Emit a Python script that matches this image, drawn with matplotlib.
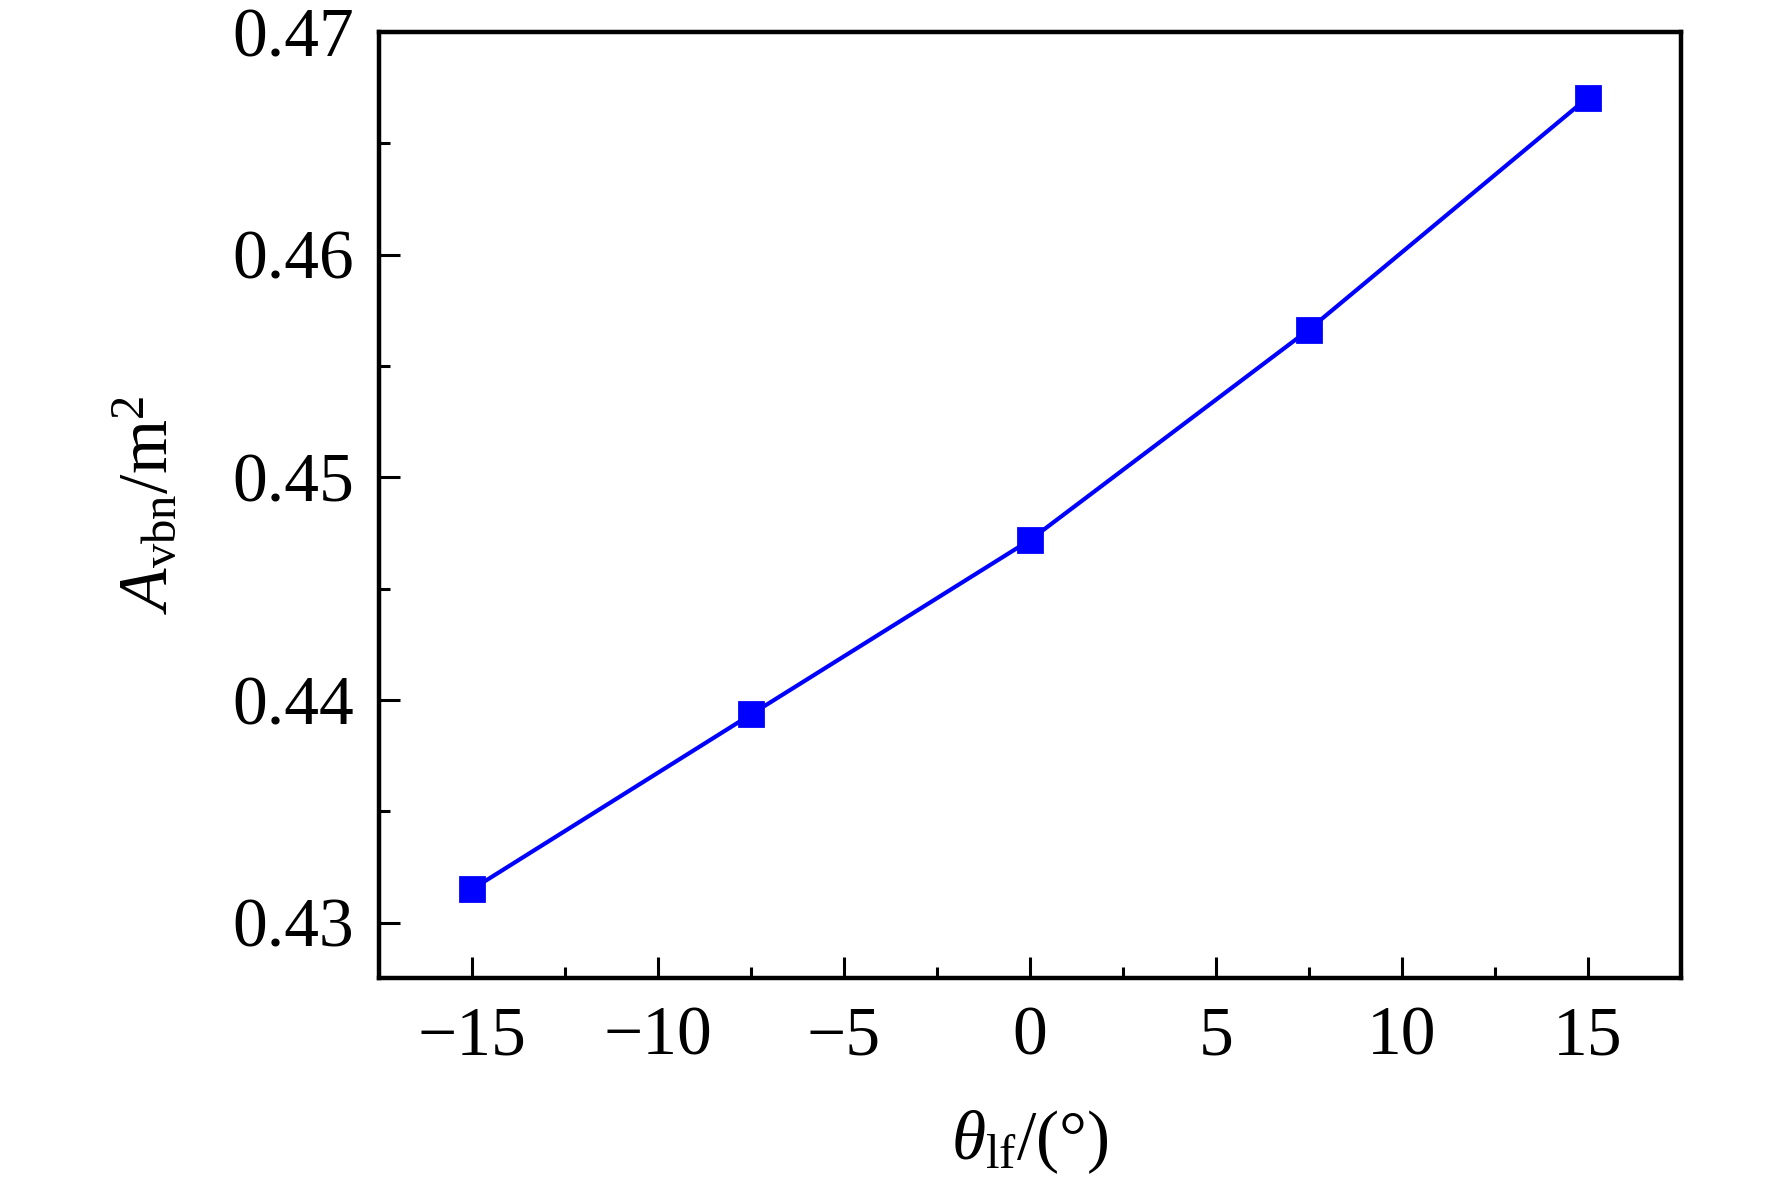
import numpy as np
import matplotlib.pyplot as plt
from matplotlib.ticker import MultipleLocator

angle = np.array([-15, -7.5, 0, 7.5, 15])
area = np.array([0.4315, 0.43935, 0.44718, 0.45663, 0.46705])

plt.rcParams['font.family'] = 'Liberation Serif'
plt.rcParams['mathtext.fontset'] = 'custom'
plt.rcParams['mathtext.rm'] = 'Liberation Serif'
plt.rcParams['mathtext.it'] = 'Liberation Serif:italic'

fig = plt.figure(figsize=(8.86, 5.92), dpi=200)
ax = fig.add_axes([0.2139, 0.1737, 0.7346, 0.7993])

ax.plot(angle, area, color='#0000ff', linewidth=1.5, marker='s', markersize=8.5)

ax.set_xlim(-17.5, 17.5)
ax.set_ylim(0.4275, 0.47)
ax.xaxis.set_major_locator(MultipleLocator(5))
ax.xaxis.set_minor_locator(MultipleLocator(2.5))
ax.yaxis.set_major_locator(MultipleLocator(0.01))
ax.yaxis.set_minor_locator(MultipleLocator(0.005))
ax.tick_params(which='both', direction='in', top=False, right=False, width=1.1, labelsize=25)
ax.tick_params(which='major', length=7.5)
ax.tick_params(which='minor', length=4)
ax.tick_params(axis='x', pad=10)
ax.tick_params(axis='y', pad=9)
ax.yaxis.set_major_formatter(plt.FuncFormatter(lambda v, p: f'{v:.2f}'))
ax.xaxis.set_major_formatter(plt.FuncFormatter(lambda v, p: f'{v:.0f}'.replace('-', '\u2212')))
for s in ax.spines.values():
    s.set_linewidth(1.6)

ax.set_xlabel(r'$\theta_{\mathrm{lf}}$/(°)', fontsize=25, labelpad=14)
ax.set_ylabel(r'$A_{\mathrm{vbn}}$/m$^{2}$', fontsize=25, labelpad=18)

fig.savefig('out.png', dpi=200)
